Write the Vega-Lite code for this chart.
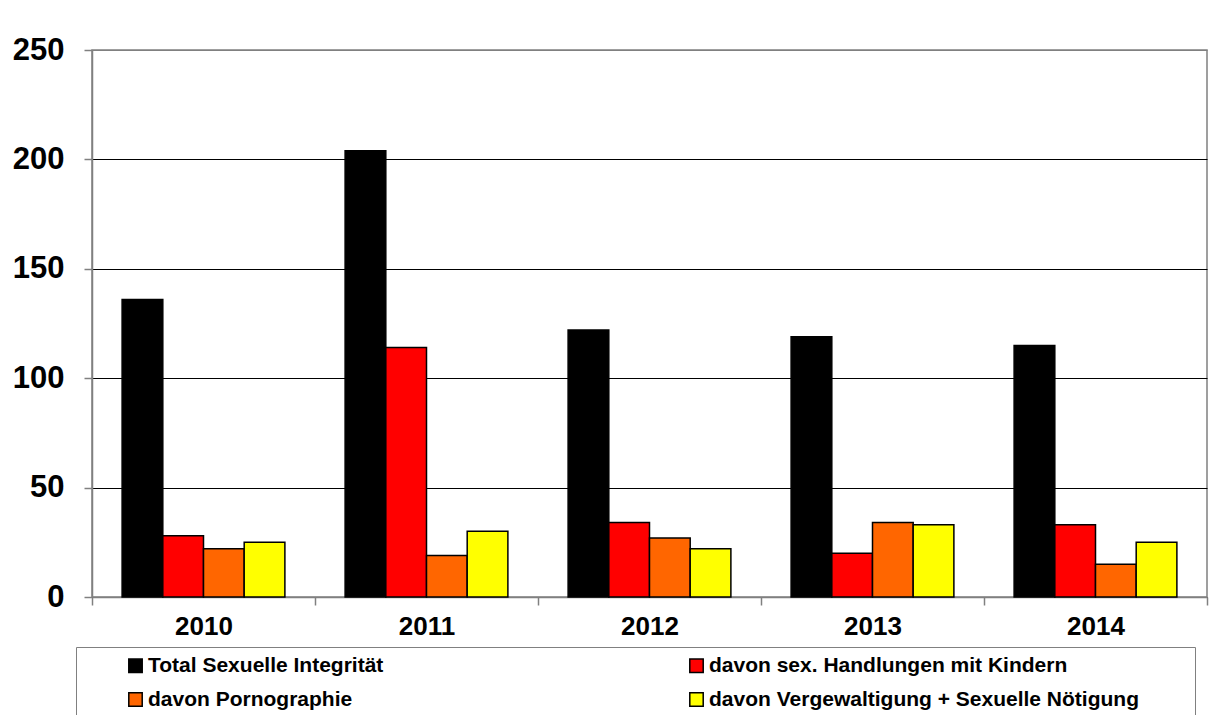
{
  "$schema": "https://vega.github.io/schema/vega-lite/v6.json",
  "width": 1115,
  "height": 547,
  "autosize": {"type": "none"},
  "padding": {"left": 92, "top": 50, "right": 6, "bottom": 118},
  "background": "white",
  "config": {
    "font": "Liberation Sans",
    "view": {"stroke": "#808080", "strokeWidth": 1.5}
  },
  "data": {
    "values": [
      {"year": "2010", "series": "Total Sexuelle Integrität", "value": 136},
      {"year": "2010", "series": "davon sex. Handlungen mit Kindern", "value": 28},
      {"year": "2010", "series": "davon Pornographie", "value": 22},
      {"year": "2010", "series": "davon Vergewaltigung + Sexuelle Nötigung", "value": 25},
      {"year": "2011", "series": "Total Sexuelle Integrität", "value": 204},
      {"year": "2011", "series": "davon sex. Handlungen mit Kindern", "value": 114},
      {"year": "2011", "series": "davon Pornographie", "value": 19},
      {"year": "2011", "series": "davon Vergewaltigung + Sexuelle Nötigung", "value": 30},
      {"year": "2012", "series": "Total Sexuelle Integrität", "value": 122},
      {"year": "2012", "series": "davon sex. Handlungen mit Kindern", "value": 34},
      {"year": "2012", "series": "davon Pornographie", "value": 27},
      {"year": "2012", "series": "davon Vergewaltigung + Sexuelle Nötigung", "value": 22},
      {"year": "2013", "series": "Total Sexuelle Integrität", "value": 119},
      {"year": "2013", "series": "davon sex. Handlungen mit Kindern", "value": 20},
      {"year": "2013", "series": "davon Pornographie", "value": 34},
      {"year": "2013", "series": "davon Vergewaltigung + Sexuelle Nötigung", "value": 33},
      {"year": "2014", "series": "Total Sexuelle Integrität", "value": 115},
      {"year": "2014", "series": "davon sex. Handlungen mit Kindern", "value": 33},
      {"year": "2014", "series": "davon Pornographie", "value": 15},
      {"year": "2014", "series": "davon Vergewaltigung + Sexuelle Nötigung", "value": 25}
    ]
  },
  "mark": {"type": "bar", "stroke": "#000000", "strokeWidth": 1.5},
  "encoding": {
    "x": {
      "field": "year",
      "type": "nominal",
      "scale": {"paddingInner": 0, "paddingOuter": 0},
      "axis": {
        "title": null,
        "labelAngle": 0,
        "labelFont": "Liberation Sans",
        "labelFontSize": 26,
        "labelFontWeight": "bold",
        "labelColor": "#000000",
        "labelPadding": 8,
        "tickBand": "extent",
        "tickSize": 8,
        "tickColor": "#808080",
        "tickWidth": 1.5,
        "domainColor": "#808080",
        "domainWidth": 1.5
      }
    },
    "xOffset": {
      "field": "series",
      "type": "nominal",
      "sort": ["Total Sexuelle Integrität", "davon sex. Handlungen mit Kindern", "davon Pornographie", "davon Vergewaltigung + Sexuelle Nötigung"],
      "scale": {"paddingInner": 0, "paddingOuter": 0.74}
    },
    "y": {
      "field": "value",
      "type": "quantitative",
      "scale": {"domain": [0, 250], "nice": false},
      "axis": {
        "title": null,
        "values": [0, 50, 100, 150, 200, 250],
        "labelFont": "Liberation Sans",
        "labelFontSize": 31,
        "labelFontWeight": "bold",
        "labelColor": "#000000",
        "labelPadding": 20,
        "tickSize": 8,
        "tickColor": "#808080",
        "tickWidth": 1.5,
        "domainColor": "#808080",
        "domainWidth": 1.5,
        "grid": true,
        "gridColor": {"condition": {"test": "datum.value === 250", "value": "#808080"}, "value": "#000000"},
        "gridWidth": 1.2
      }
    },
    "color": {
      "field": "series",
      "type": "nominal",
      "sort": ["Total Sexuelle Integrität", "davon sex. Handlungen mit Kindern", "davon Pornographie", "davon Vergewaltigung + Sexuelle Nötigung"],
      "scale": {
        "domain": ["Total Sexuelle Integrität", "davon sex. Handlungen mit Kindern", "davon Pornographie", "davon Vergewaltigung + Sexuelle Nötigung"],
        "range": ["#000000", "#FF0000", "#FF6600", "#FFFF00"]
      },
      "legend": {
        "title": " ",
        "titleOrient": "right",
        "titlePadding": 48,
        "titleFontSize": 10,
        "orient": "none",
        "legendX": -16,
        "legendY": 597,
        "direction": "horizontal",
        "columns": 2,
        "columnPadding": 261,
        "rowPadding": 12,
        "padding": 8,
        "symbolType": "square",
        "symbolSize": 180,
        "symbolStrokeColor": "#000000",
        "symbolStrokeWidth": 1.5,
        "symbolOffset": 41,
        "labelOffset": 2,
        "labelFont": "Liberation Sans",
        "labelFontSize": 21,
        "labelFontWeight": "bold",
        "labelColor": "#000000",
        "labelLimit": 0,
        "strokeColor": "#808080",
        "fillColor": "#ffffff"
      }
    }
  }
}
